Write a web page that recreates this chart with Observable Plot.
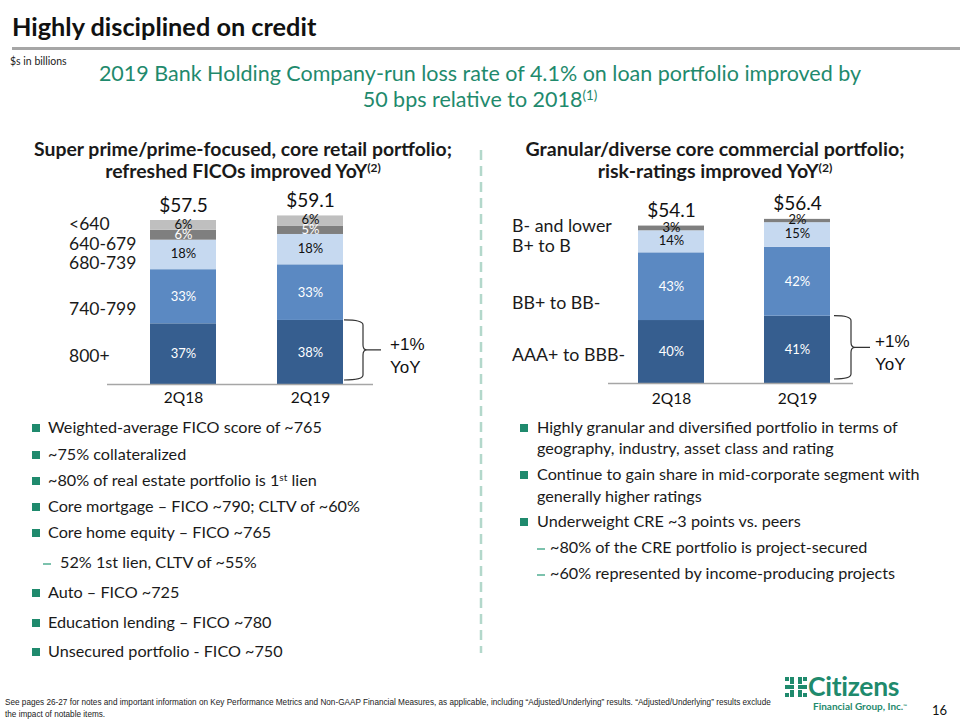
<!DOCTYPE html>
<html><head><meta charset="utf-8">
<script src="https://cdn.jsdelivr.net/npm/d3@7"></script>
<script src="https://cdn.jsdelivr.net/npm/@observablehq/plot@0.6"></script>
<style>
body{margin:0;background:#fff;font-family:Lato,"Open Sans",sans-serif;color:#1a1a1a}
#page{position:relative;width:960px;height:720px;overflow:hidden;background:#fff}
.t{position:absolute;white-space:nowrap;line-height:1}
.c{transform:translateX(-50%)}
.chart{position:absolute}
sup{font-size:0.62em;vertical-align:0.5em;line-height:0}
</style></head>
<body><div id="page"></div>
<script>
// ---------- data ----------
const quarters = ["2Q18", "2Q19"];
const retailCats = ["800+", "740-799", "680-739", "640-679", "<640"];
const retailTotals = [57.5, 59.1];
const retailPct2Q18 = [37, 33, 18, 6, 6];
const retailPct2Q19 = [38, 33, 18, 5, 6];
const commCats = ["AAA+ to BBB-", "BB+ to BB-", "B+ to B", "B- and lower"];
const commTotals = [54.1, 56.4];
const commPct2Q18 = [40, 43, 14, 3];
const commPct2Q19 = [41, 42, 15, 2];
const yoyChange = "+1%";

const leftBullets = [
  ["b", "Weighted-average FICO score of ~765"],
  ["b", "~75% collateralized"],
  ["b", "~80% of real estate portfolio is 1<sup>st</sup> lien"],
  ["b", "Core mortgage – FICO ~790; CLTV of ~60%"],
  ["b", "Core home equity – FICO ~765"],
  ["s", "52% 1st lien, CLTV of ~55%"],
  ["b", "Auto – FICO ~725"],
  ["b", "Education lending – FICO ~780"],
  ["b", "Unsecured portfolio - FICO ~750"]
];
const rightBullets = [
  ["b", "Highly granular and diversified portfolio in terms of"],
  ["c", "geography, industry, asset class and rating"],
  ["b", "Continue to gain share in mid-corporate segment with"],
  ["c", "generally higher ratings"],
  ["b", "Underweight CRE ~3 points vs. peers"],
  ["s", "~80% of the CRE portfolio is project-secured"],
  ["s", "~60% represented by income-producing projects"]
];

// ---------- styles ----------
const GREEN = "#1f8a6d";
const retailColors = ["#365e8f", "#5b89c2", "#c6d9f0", "#7f7f7f", "#bfbfbf"];
const retailLabelColors = ["#fff", "#fff", "#111", "#fff", "#111"];
const commColors = ["#365e8f", "#5b89c2", "#c6d9f0", "#7f7f7f"];
const commLabelColors = ["#fff", "#fff", "#111", "#111"];

const page = document.getElementById("page");
function T(html, x, cy, size, style = "", center = false) {
  const d = document.createElement("div");
  d.className = "t" + (center ? " c" : "");
  d.innerHTML = html;
  d.style.cssText = `left:${x}px;top:${cy - 0.55 * size}px;font-size:${size}px;${style}`;
  page.appendChild(d);
  return d;
}

// ---------- header ----------
T("Highly disciplined on credit", 12, 28, 25.3, "font-weight:700;color:#111");
const rule = document.createElement("div");
rule.style.cssText = "position:absolute;left:12px;top:47px;width:948px;height:3px;background:#a6a6a6";
page.appendChild(rule);
T("$s in billions", 10, 62, 10.5, "color:#222");
T("2019 Bank Holding Company-run loss rate of 4.1% on loan portfolio improved by", 480, 75, 21.5, `color:${GREEN}`, true);
T("50 bps relative to 2018<sup>(1)</sup>", 480, 101, 21.5, `color:${GREEN}`, true);
T("Super prime/prime-focused, core retail portfolio;", 243, 150, 19.4, "font-weight:700", true);
T("refreshed FICOs improved YoY<sup>(2)</sup>", 243, 172, 19.4, "font-weight:700", true);
T("Granular/diverse core commercial portfolio;", 715, 150, 19.6, "font-weight:700", true);
T("risk-ratings improved YoY<sup>(2)</sup>", 715, 172, 19.6, "font-weight:700", true);

// dashed divider
page.insertAdjacentHTML("beforeend",
  `<svg style="position:absolute;left:476px;top:148px" width="10" height="510"><line x1="5" y1="2" x2="5" y2="505" stroke="#b3d8cb" stroke-width="2.5" stroke-dasharray="10 6"/></svg>`);

// ---------- charts ----------
function rows(cats, totals, pcts) {
  const out = [];
  quarters.forEach((q, i) => cats.forEach((c, j) => out.push({q, cat: c, pct: pcts[i][j], v: totals[i] * pcts[i][j] / 100, total: totals[i]})));
  return out;
}

function chart({cats, colors, labelColors, totals, pcts, xRange, mL, mR, pxPerUnit, baseY, tickPad, left, top, brace}) {
  const data = rows(cats, totals, pcts);
  const totalsData = quarters.map((q, i) => ({q, total: totals[i]}));
  const lc = d => labelColors[cats.indexOf(d.cat)];
  const H = baseY + 30;
  const plot = Plot.plot({
    width: 480, height: H,
    marginLeft: mL, marginRight: mR, marginTop: 0, marginBottom: 30,
    style: {fontFamily: "Lato, 'Open Sans', sans-serif", fontSize: "15.5px", color: "#111", background: "transparent", overflow: "visible"},
    x: {domain: quarters, range: xRange, padding: 0.48, label: null, tickSize: 0, tickPadding: tickPad},
    y: {domain: [0, 70], range: [baseY, baseY - 70 * pxPerUnit], axis: null},
    color: {domain: cats, range: colors},
    marks: [
      Plot.barY(data, {x: "q", y: "v", fill: "cat"}),
      Plot.text(data, Plot.stackY({x: "q", y: "v", text: d => lc(d) === "#fff" ? d.pct + "%" : "", fill: "#fff", fontSize: 13})),
      Plot.text(data, Plot.stackY({x: "q", y: "v", text: d => lc(d) !== "#fff" ? d.pct + "%" : "", fill: "#111", fontSize: 13, dy: -1})),
      Plot.text(totalsData, {x: "q", y: "total", text: d => "$" + d.total.toFixed(1), dy: -15, fontSize: 19, fill: "#111"}),
      Plot.ruleY([0], {stroke: "#a6a6a6", strokeWidth: 1.5})
    ]
  });
  plot.setAttribute("class", "chart");
  plot.style.left = left + "px";
  plot.style.top = top + "px";
  // bracket around the 2Q19 bottom segment
  const xs = plot.scale("x"), ys = plot.scale("y");
  const last = data.filter(d => d.q === quarters[1])[0];
  const x0 = xs.apply(quarters[1]) + xs.bandwidth + brace.gap;
  const x1 = x0 + brace.w, x2 = x1 + 4, x3 = x1 + brace.tail;
  const yt = ys.apply(last.v), yb = ys.apply(0) - 4, ym = (yt + yb) / 2, r = 5;
  const svg = d3.select(plot);
  svg.append("path")
    .attr("d", `M${x0},${yt} Q${x1},${yt} ${x1},${yt + r} L${x1},${ym - r} Q${x1},${ym} ${x2},${ym} Q${x1},${ym} ${x1},${ym + r} L${x1},${yb - r} Q${x1},${yb} ${x0},${yb} M${x2},${ym} L${x3},${ym}`)
    .attr("fill", "none").attr("stroke", "#333").attr("stroke-width", 1.2);
  const tx = x0 + brace.textDx;
  for (const [txt, dy] of [[yoyChange, -6], ["YoY", 17]]) {
    svg.append("text").attr("x", tx).attr("y", ym + dy).attr("dy", "0.35em").attr("text-anchor", "start")
      .attr("font-family", "'Liberation Sans', Arial, sans-serif").attr("font-size", 17).attr("fill", "#111").text(txt);
  }
  page.appendChild(plot);
}

chart({cats: retailCats, colors: retailColors, labelColors: retailLabelColors, totals: retailTotals,
  pcts: [retailPct2Q18, retailPct2Q19], xRange: [89, 404], mL: 107, mR: 107,
  pxPerUnit: (384 - 220) / 57.5, baseY: 204, tickPad: 7, left: 0, top: 180,
  brace: {gap: 1, w: 19, tail: 18, textDx: 46}});
chart({cats: commCats, colors: commColors, labelColors: commLabelColors, totals: commTotals,
  pcts: [commPct2Q18, commPct2Q19], xRange: [97, 410], mL: 128, mR: 107,
  pxPerUnit: 2.91, baseY: 203, tickPad: 9, left: 480, top: 180,
  brace: {gap: 4, w: 17, tail: 19, textDx: 41}});

// category labels
const leftCatY = [357, 310, 264, 245, 225];
retailCats.forEach((c, i) => T(c.replace("<", "&lt;"), 69, leftCatY[i], 17.5));
const rightCatY = [356, 304, 247, 227];
commCats.forEach((c, i) => T(c, 512, rightCatY[i], 17.8));

// ---------- bullets ----------
function bullets(items, ys, bx, tx, sx, dashX) {
  items.forEach(([kind, txt], i) => {
    const y = ys[i];
    if (kind === "b") {
      const s = document.createElement("div");
      s.style.cssText = `position:absolute;left:${bx}px;top:${y - 4}px;width:8px;height:8px;background:${GREEN}`;
      page.appendChild(s);
      T(txt, tx, y, 16.2);
    } else if (kind === "c") {
      T(txt, tx, y, 16.2);
    } else {
      const s = document.createElement("div");
      s.style.cssText = `position:absolute;left:${dashX}px;top:${y}px;width:8px;height:1.5px;background:#7cc2ad`;
      page.appendChild(s);
      T(txt, sx, y, 16.2);
    }
  });
}
bullets(leftBullets, [428, 455, 481, 507, 533, 563, 593, 623, 652], 32, 48, 60, 43);
bullets(rightBullets, [428, 449, 475, 497, 522, 548, 574], 520, 537, 550, 537);

// ---------- footer ----------
T("See pages 26-27 for notes and important information on Key Performance Metrics and Non-GAAP Financial Measures, as applicable, including “Adjusted/Underlying” results. “Adjusted/Underlying” results exclude", 5, 704, 8.2, "font-family:'Liberation Sans Narrow','Liberation Sans',sans-serif;color:#222");
T("the impact of notable items.", 5, 716, 8.2, "font-family:'Liberation Sans Narrow','Liberation Sans',sans-serif;color:#222");
page.insertAdjacentHTML("beforeend",
  `<svg style="position:absolute;left:785px;top:677px" width="22" height="20" viewBox="0 0 22 20">
    <g fill="${GREEN}">
      <rect x="0" y="0" width="4" height="4"/><rect x="5" y="0" width="4" height="7"/><rect x="13" y="0" width="4" height="7"/><rect x="18" y="0" width="4" height="4"/>
      <rect x="0" y="8" width="9" height="4"/><rect x="13" y="8" width="9" height="4"/>
      <rect x="0" y="16" width="4" height="4"/><rect x="5" y="13" width="4" height="7"/><rect x="13" y="13" width="4" height="7"/><rect x="18" y="16" width="4" height="4"/>
    </g></svg>`);
T("Citizens", 808, 688, 26.5, `font-weight:700;color:${GREEN};letter-spacing:-0.3px`);
T("Financial Group, Inc.<sup style='font-size:5px'>™</sup>", 813, 706, 10, `font-weight:700;color:${GREEN}`);
T("16", 932, 711, 13, "color:#111");
</script></body></html>
